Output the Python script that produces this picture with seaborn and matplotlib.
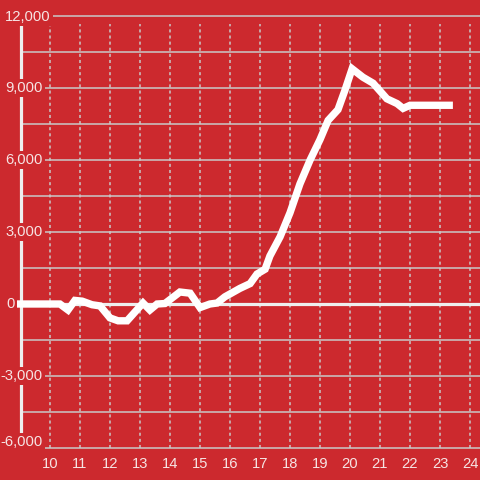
import matplotlib
matplotlib.use("Agg")
import matplotlib.pyplot as plt
import seaborn as sns
import numpy as np

# ---- data ----
hours = [8.9, 10.33, 10.6, 10.83, 11.07, 11.4, 11.67, 12.0, 12.27, 12.57,
         13.1, 13.33, 13.57, 13.83, 14.33, 14.67, 15.0, 15.33, 15.57, 15.83,
         16.33, 16.67, 16.9, 17.17, 17.33, 17.67, 18.0, 18.33, 18.67, 19.0,
         19.27, 19.6, 19.83, 20.07, 20.43, 20.77, 21.23, 21.57, 21.77, 22.0,
         23.43]
values = [0, 0, -250, 150, 120, -30, -80, -580, -700, -700,
          40, -250, 0, 20, 500, 450, -150, 0, 40, 300,
          650, 850, 1250, 1450, 2000, 2800, 3800, 5000, 6000, 6850,
          7650, 8100, 8900, 9800, 9450, 9200, 8550, 8350, 8150, 8280,
          8280]
x_ticks = list(range(10, 25))
x_tick_labels = [str(t) for t in x_ticks]
y_ticks = [-6000, -3000, 0, 3000, 6000, 9000, 12000]
y_tick_labels = ["-6,000", "-3,000", "0", "3,000", "6,000", "9,000", "12,000"]
y_grid = [-6000 + 1500 * i for i in range(13)]

# ---- style ----
RED = "#cc292e"
GRID = "#c9c9c9"
TXT = "#f6e4e4"
W, H = 480, 480

sns.set_theme(style="white")
plt.rcParams["font.family"] = ["Liberation Sans", "DejaVu Sans"]

fig = plt.figure(figsize=(4.8, 4.8), dpi=100, facecolor=RED)
ax = fig.add_axes([0, 0, 1, 1])
ax.set_facecolor(RED)

# pixel mapping: x=10 at px 50, 30 px/hour; y=0 at px 304, 24 px per 1000
x0 = 10 - 50 / 30.0
x1 = 10 + (W - 50) / 30.0
y_top = 304 / 24.0 * 1000
y_bot = -(H - 304) / 24.0 * 1000
ax.set_xlim(x0, x1)
ax.set_ylim(y_bot, y_top)

def px2x(p):
    return x0 + p / 30.0

def px2y(p):
    return (304 - p) / 24.0 * 1000

# horizontal grid
for g in y_grid:
    ax.hlines(g, px2x(22), x1, color=GRID, lw=1.1, zorder=1)
# vertical dotted grid
for t in x_ticks:
    ax.vlines(t, px2y(448), px2y(24), color=GRID, lw=1.1,
              linestyles=(0, (2, 2)), zorder=1)

# left axis bar
ax.vlines(px2x(20.7), px2y(448), px2y(24), color="#eeeeee", lw=2.3, zorder=2)
# zero line
ax.hlines(0, px2x(17), x1, color="#eeeeee", lw=2.3, zorder=3)

# data line
sns.lineplot(x=hours, y=values, ax=ax, color="white", linewidth=5.3,
             estimator=None, sort=False, zorder=6)
for l in ax.lines:
    l.set_solid_joinstyle("miter")
    l.set_solid_capstyle("butt")

# y tick labels
fs = 10.6
right_px = {"12,000": 51, "0": 15}
dy_px = {"-6,000": 6, "12,000": -1}
for v, lab in zip(y_ticks, y_tick_labels):
    rx = right_px.get(lab, 43)
    yy = px2y(304 - v / 1000 * 24 - dy_px.get(lab, 0))
    ax.text(px2x(rx), yy, lab, ha="right", va="center", color=TXT,
            fontsize=fs, zorder=4,
            bbox=dict(boxstyle="square,pad=0.12", fc=RED, ec="none"))

# x tick labels
for t, lab in zip(x_ticks, x_tick_labels):
    ax.text(t, px2y(464), lab, ha="center", va="center", color=TXT,
            fontsize=fs, zorder=4)

ax.set_axis_off()
fig.savefig("out.png", dpi=100, facecolor=RED)
